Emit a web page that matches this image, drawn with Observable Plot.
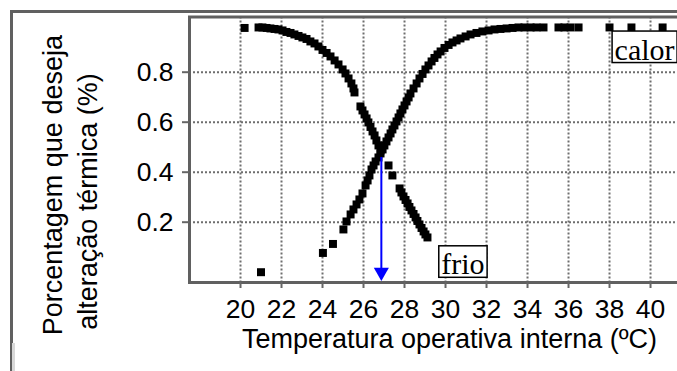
<!DOCTYPE html>
<html><head><meta charset="utf-8">
<script src="https://cdn.jsdelivr.net/npm/d3@7"></script>
<script src="https://cdn.jsdelivr.net/npm/@observablehq/plot@0.6"></script>
<style>
html,body{margin:0;padding:0;background:#fff;overflow:hidden;}
#wrap{position:relative;width:677px;height:371px;overflow:hidden;background:#fff;}
#chart{position:absolute;left:0;top:0;width:690px;}
#outer{position:absolute;left:10px;top:10px;width:800px;height:500px;border-left:3px solid #606060;border-top:3px solid #606060;pointer-events:none;}
#nub{position:absolute;left:12px;top:343px;width:3px;height:28px;background:#d8d8d8;}
</style></head>
<body><div id="wrap"><div id="chart"></div><div id="outer"></div><div id="nub"></div></div>
<script>
// Curve "frio" (cold): temperature (ºC) and fraction wanting change
const frioT = [20.20, 20.88, 21.07, 21.27, 21.46, 21.66, 21.85, 22.05, 22.24, 22.44, 22.63, 22.83, 23.02, 23.22, 23.41, 23.61, 23.80, 24.00, 24.20, 24.39, 24.59, 24.78, 24.98, 25.12, 25.27, 25.41, 25.51, 25.56,
  25.85, 25.95, 26.05, 26.15, 26.24, 26.34, 26.44, 26.54, 26.63, 26.73, 26.83,
  27.22, 27.41,
  27.76, 27.85, 27.95, 28.05, 28.15, 28.24, 28.34, 28.44, 28.54, 28.63, 28.73, 28.83, 28.93, 29.02, 29.12];
const frioV = [0.977, 0.979, 0.979, 0.977, 0.975, 0.973, 0.971, 0.967, 0.961, 0.957, 0.951, 0.945, 0.939, 0.933, 0.923, 0.915, 0.903, 0.889, 0.877, 0.863, 0.847, 0.831, 0.811, 0.795, 0.775, 0.755, 0.735, 0.719,
  0.663, 0.647, 0.631, 0.615, 0.599, 0.581, 0.563, 0.547, 0.527, 0.507, 0.487,
  0.427, 0.387,
  0.335, 0.319, 0.303, 0.289, 0.275, 0.261, 0.247, 0.233, 0.219, 0.205, 0.191, 0.177, 0.163, 0.151, 0.139];
// Curve "calor" (heat)
const calorT = [21.00, 24.02, 24.51, 25.02, 25.17, 25.37, 25.51, 25.66, 25.80, 25.95, 26.10, 26.20, 26.29, 26.39, 26.49, 26.59, 26.73, 26.83, 26.93, 27.02, 27.12, 27.22, 27.32, 27.41, 27.51, 27.61, 27.71, 27.80, 27.90, 28.00, 28.10, 28.20, 28.29, 28.44, 28.59, 28.73, 28.88, 29.02, 29.17, 29.32, 29.46, 29.61, 29.76, 29.95, 30.15, 30.34, 30.54, 30.73, 30.98, 31.22, 31.51, 31.80, 32.10, 32.39, 32.68, 32.98, 33.27, 33.56, 33.85, 34.15, 34.44, 34.78,
  35.51, 35.80, 36.10, 36.49,
  38.00, 39.07, 40.59];
const calorV = [0.000, 0.077, 0.113, 0.171, 0.203, 0.231, 0.251, 0.271, 0.291, 0.315, 0.347, 0.367, 0.387, 0.411, 0.427, 0.443, 0.459, 0.475, 0.491, 0.507, 0.523, 0.539, 0.555, 0.571, 0.587, 0.603, 0.619, 0.635, 0.651, 0.667, 0.683, 0.699, 0.715, 0.735, 0.755, 0.775, 0.793, 0.811, 0.827, 0.843, 0.857, 0.871, 0.883, 0.897, 0.909, 0.919, 0.927, 0.935, 0.943, 0.951, 0.957, 0.963, 0.967, 0.971, 0.973, 0.975, 0.977, 0.979, 0.979, 0.979, 0.979, 0.979,
  0.979, 0.979, 0.979, 0.979,
  0.979, 0.979, 0.979];
// Axis ticks
const xTicks = [20, 22, 24, 26, 28, 30, 32, 34, 36, 38, 40];
const yTicks = [0.2, 0.4, 0.6, 0.8];
// Temperature marked by the arrow
const arrowT = [26.87];
const arrowTop = 0.459;
const xTitle = "Temperatura operativa interna (ºC)";
const yTitle1 = "Porcentagem que deseja";
const yTitle2 = "alteração térmica (%)";

const frio = frioT.map((T, i) => ({T, v: frioV[i]}));
const calor = calorT.map((T, i) => ({T, v: calorV[i]}));

const sans = "'Liberation Sans', Arial, sans-serif";
const serif = "'Liberation Serif', 'Times New Roman', serif";

const chart = Plot.plot({
  width: 690, height: 371,
  marginLeft: 189, marginRight: 0, marginTop: 16.5, marginBottom: 89,
  x: {domain: [17.512, 41.95]},
  y: {domain: [-0.0412, 1.0208]},
  style: {fontFamily: sans, fontSize: "26.5px", background: "transparent", color: "black", maxWidth: "none", overflow: "visible"},
  marks: [
    Plot.ruleX(xTicks, {stroke: "#6e6e6e", strokeWidth: 2, strokeDasharray: "2,2"}),
    Plot.ruleY(yTicks, {stroke: "#6e6e6e", strokeWidth: 2, strokeDasharray: "2,2"}),
    Plot.frame({stroke: "#606060", strokeWidth: 3}),
    Plot.axisX(xTicks, {tickSize: 6, tickPadding: 10.5, stroke: "#666", strokeWidth: 2, fill: "black", tickFormat: d => String(d), label: null}),
    Plot.axisY(yTicks, {tickSize: 7, tickPadding: 9, stroke: "#666", strokeWidth: 2, fill: "black", tickFormat: d => d.toFixed(1), label: null}),
    Plot.dot(frio, {x: "T", y: "v", symbol: "square", r: 4.5, fill: "black"}),
    Plot.dot(calor, {x: "T", y: "v", symbol: "square", r: 4.5, fill: "black"}),
    Plot.ruleX(arrowT, {x: d => d, y1: 0, y2: arrowTop, stroke: "#0000ff", strokeWidth: 2}),
    Plot.dot(arrowT, {x: d => d, y: 0, symbol: "triangle", r: 5.6, fill: "#0000ff", rotate: 180}),
    Plot.text(["frio"], {x: 30.85, y: 0.03, text: d => d, fontFamily: serif, fontSize: 30, fill: "black"}),
    Plot.text(["calor"], {x: 39.71, y: 0.889, text: d => d, fontFamily: serif, fontSize: 30, fill: "black"}),
    Plot.text([xTitle], {frameAnchor: "bottom", dx: 9.5, dy: 65.5, text: d => d, fill: "black", fontSize: 27}),
    Plot.text([yTitle1], {frameAnchor: "left", dx: -135.8, dy: 185.5, rotate: -90, textAnchor: "start", text: d => d, fill: "black", fontSize: 27}),
    Plot.text([yTitle2], {frameAnchor: "left", dx: -100.8, dy: 180, rotate: -90, textAnchor: "start", text: d => d, fill: "black", fontSize: 27})
  ]
});
document.getElementById("chart").append(chart);

// Boxes around the curve labels
d3.select(chart).selectAll("text").each(function() {
  const t = this.textContent;
  if (t === "frio" || t === "calor") {
    const b = this.getBBox();
    d3.select(this.parentNode).insert("rect", () => this)
      .attr("transform", this.getAttribute("transform"))
      .attr("x", b.x - 2.5).attr("y", b.y - 1.5)
      .attr("width", b.width + 5).attr("height", b.height - 1.5)
      .attr("fill", "white").attr("stroke", "black").attr("stroke-width", 1.5);
  }
});
</script>
</body></html>
